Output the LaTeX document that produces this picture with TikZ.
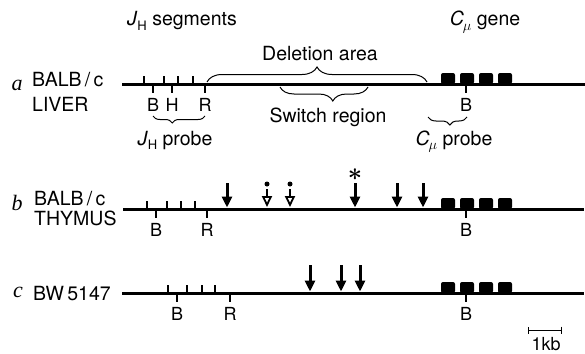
\documentclass[tikz,border=0pt]{standalone}
\usepackage{fontspec}
\setmainfont{TeX Gyre Heros}
\newfontfamily\lanefont{Liberation Serif}
\usetikzlibrary{arrows.meta, decorations.pathreplacing}
\newcommand{\Cmu}{{\itshape C}\kern-1pt\raisebox{-0.45ex}{\fontsize{15}{15}\selectfont$\mu$}}
\newcommand{\JH}{{\itshape J}\kern0.5pt\raisebox{-0.45ex}{\fontsize{13}{13}\selectfont H}}

\begin{document}
\begin{tikzpicture}[x=1pt, y=-1pt,
  dna/.style={line width=3pt},
  site/.style={line width=2pt},
  exon/.style={fill=black, rounded corners=2pt},
  txt/.style={font=\fontsize{19.5}{22}\selectfont, inner sep=0pt, anchor=base},
  rlbl/.style={font=\fontsize{18}{20}\selectfont, inner sep=0pt, anchor=base},
  strain/.style={font=\fontsize{19.5}{22}\selectfont, inner sep=0pt, anchor=base west},
  lane/.style={font=\lanefont\itshape\fontsize{22}{24}\selectfont, inner sep=0pt, anchor=base},
  cut/.style={line width=3pt, -{Triangle[length=11pt,width=10pt]}},
  cutopen/.style={line width=1.8pt, -{Triangle[open,length=11pt,width=10pt]}},
  brc/.style={decorate, decoration={brace, amplitude=#1}, line width=1pt},
  scalebar/.style={line width=1pt, {Bar[width=7pt]}-{Bar[width=7pt]}}]
\useasboundingbox (0,0) rectangle (585,353);
% Headings over the top line
\node[txt] (jseg) at (182,26) {\JH\ segments};
\node[txt] (cgene) at (485,26) {\Cmu\ gene};
% Line a: BALB/c liver
\node[lane] (la) at (17,90) {a};
\node[strain] (laS) at (32,86) {BALB\,/\,c};
\node[strain] (laT) at (32,111) {LIVER};
\coordinate (a0) at (122,84);
\coordinate (a1) at (585,84);
\fill[exon] (441,73) rectangle +(14,11) (460,73) rectangle +(14,11)
  (479,73) rectangle +(14,11) (498,73) rectangle +(14,11);
\draw[dna] (a0) -- (a1);
\draw[site] (144,84) -- (144,76) (164,84) -- (164,76) (178,84) -- (178,76) (193,84) -- (193,76);
\draw[site] (153,84) -- (153,93) (172,84) -- (172,93) (205,84) -- (205,93) (466,84) -- (466,93);
\node[rlbl] (aB) at (153,111) {B};
\node[rlbl] (aH) at (172,111) {H};
\node[rlbl] (aR) at (205,111) {R};
\node[rlbl] (aE) at (466,111) {B};
% Deletion area and switch region
\coordinate (delL) at (207,82);
\coordinate (delR) at (427,82);
\draw[brc=15pt] (delL) -- (delR);
\node[txt] (del) at (320,60) {Deletion area};
\coordinate (swL) at (280,87);
\coordinate (swR) at (368,87);
\draw[brc=14pt, decoration={aspect=0.4}] (swR) -- (swL);
\node[txt] (sw) at (328,122) {Switch region};
% The two probes
\coordinate (jpL) at (153,116);
\coordinate (jpR) at (205,116);
\draw[brc=7pt, decoration={aspect=0.63}] (jpR) -- (jpL);
\node[txt] (jp) at (175,145) {\JH\ probe};
\coordinate (cpL) at (428,117);
\coordinate (cpR) at (467,117);
\draw[brc=8pt, decoration={aspect=0.44}] (cpR) -- (cpL);
\node[txt] (cp) at (454,145) {\Cmu\ probe};
% Line b: BALB/c thymus
\node[lane] (lb) at (17,210) {b};
\node[strain] (lbS) at (34,205) {BALB\,/\,c};
\node[strain] (lbT) at (34,225) {THYMUS};
\coordinate (b0) at (123,209);
\coordinate (b1) at (584,209);
\fill[exon] (441,198) rectangle +(14,11) (460,198) rectangle +(14,11)
  (479,198) rectangle +(14,11) (498,198) rectangle +(14,11);
\draw[dna] (b0) -- (b1);
\draw[site] (147,209) -- (147,201) (167,209) -- (167,201) (181,209) -- (181,201) (195,209) -- (195,201);
\draw[site] (156,209) -- (156,218) (207,209) -- (207,218) (466,209) -- (466,218);
\node[rlbl] (bB) at (156,236) {B};
\node[rlbl] (bR) at (207,236) {R};
\node[rlbl] (bE) at (466,236) {B};
% Breakpoints in b
\draw[cut] (227,183) -- (227,207.5);
\draw[cut] (355,183) -- (355,207.5);
\draw[cut] (397,183) -- (397,207.5);
\draw[cut] (423,183) -- (423,207.5);
\fill (267,184) circle (2.5pt);
\fill (290,184) circle (2.5pt);
\draw[cutopen] (267,189) -- (267,207);
\draw[cutopen] (290,189) -- (290,207);
\node[font=\fontsize{26}{26}\selectfont\boldmath, inner sep=0pt] (star) at (355,175) {$\ast$};
% Line c: BW5147
\node[lane] (lc) at (18,297) {c};
\node[strain] (lcS) at (33,300) {BW\,5147};
\coordinate (c0) at (122,293);
\coordinate (c1) at (584,293);
\fill[exon] (441,282) rectangle +(14,11) (460,282) rectangle +(14,11)
  (479,282) rectangle +(14,11) (498,282) rectangle +(14,11);
\draw[dna] (c0) -- (c1);
\draw[site] (168,293) -- (168,285) (187,293) -- (187,285) (202,293) -- (202,285) (215,293) -- (215,285);
\draw[site] (177,293) -- (177,302) (230,293) -- (230,302) (466,293) -- (466,302);
\node[rlbl] (cB) at (177,320) {B};
\node[rlbl] (cR) at (230,320) {R};
\node[rlbl] (cE) at (466,320) {B};
% Breakpoints in c
\draw[cut] (310,265) -- (310,291.5);
\draw[cut] (341,265) -- (341,291.5);
\draw[cut] (360,265) -- (360,291.5);
% Scale bar
\coordinate (kbL) at (528,330);
\coordinate (kbR) at (562,330);
\draw[scalebar] (kbL) -- (kbR);
\node[rlbl] (kb) at (546,350) {1kb};
\end{tikzpicture}
\end{document}
